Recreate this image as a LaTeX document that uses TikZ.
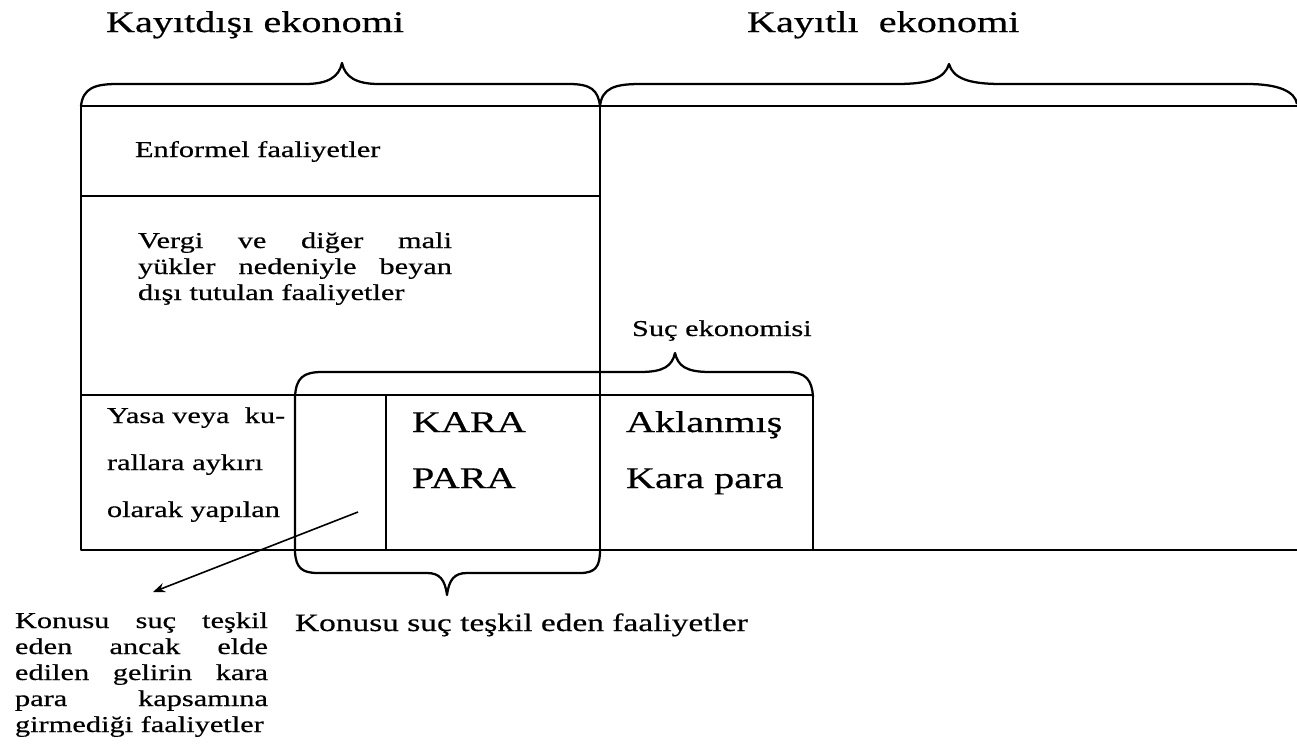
\documentclass[tikz,border=0pt]{standalone}
\usepackage{fontspec}
\setmainfont{Liberation Serif}[FakeStretch=1.34,FakeBold=0.5]
\usetikzlibrary{arrows.meta}
\newcommand\bodyfont{\fontsize{17}{19.5}\selectfont}
\newcommand\midfont{\fontsize{18.7}{21}\selectfont}
\newcommand\bigfont{\fontsize{22.5}{26}\selectfont}
\begin{document}
\begin{tikzpicture}[x=0.75pt,y=-0.75pt, line join=round,
  frameline/.style={line width=1pt},
  bracepath/.style={line width=1.7pt},
  txt/.style={anchor=base west, inner sep=0pt, outer sep=0pt, font=\bodyfont},
  midtxt/.style={anchor=base west, inner sep=0pt, outer sep=0pt, font=\midfont},
  bigtxt/.style={anchor=base west, inner sep=0pt, outer sep=0pt, font=\bigfont}]
\useasboundingbox (0,0) rectangle (1297,744);

% titles
\node[bigtxt] (t1) at (106,32) {Kayıtdışı ekonomi};
\node[bigtxt] (t2) at (747,32) {Kayıtlı\ \ ekonomi};

% top braces
\draw[bracepath] (81,106) .. controls (83,88) and (95,84) .. (117,84) -- (305,84)
  .. controls (328,84) and (339,77) .. (342,63)
  .. controls (345,77) and (356,84) .. (379,84) -- (569,84)
  .. controls (591,84) and (598,90) .. (600,106);
\draw[bracepath] (600,106) .. controls (602,88) and (615,84) .. (640,84) -- (897,84)
  .. controls (930,84) and (945,78) .. (949,64)
  .. controls (953,78) and (968,84) .. (1001,84) -- (1247,84)
  .. controls (1280,84) and (1295,92) .. (1297,104);

% frame
\draw[frameline] (1297,106) -- (81,106) -- (81,550) -- (1297,550);
\draw[frameline] (81,196) -- (600,196);
\draw[frameline] (81,395) -- (813,395) -- (813,550);
\draw[frameline] (386,395) -- (386,550);
\draw[frameline] (600,106) -- (600,550);

% crime brace + bottom brace
\draw[bracepath] (813,397) .. controls (812,380) and (806,372) .. (787,372) -- (710,372)
  .. controls (686,372) and (678,366) .. (675,353)
  .. controls (672,366) and (664,372) .. (640,372) -- (322,372)
  .. controls (303,372) and (296,378) .. (295,397) -- (295,552)
  .. controls (296,568) and (302,573) .. (318,573) -- (427,573)
  .. controls (440,573) and (445,580) .. (447,595)
  .. controls (449,580) and (454,573) .. (467,573) -- (580,573)
  .. controls (596,573) and (600,566) .. (600,550);

% texts
\node[txt] (enf) at (135,157) {Enformel faaliyetler};
\node[txt] (v1) at (138,248) {\hbox to 235.5pt{Vergi\hfill ve\hfill diğer\hfill mali}};
\node[txt] (v2) at (138,274) {\hbox to 235.5pt{yükler\hfill nedeniyle\hfill beyan}};
\node[txt] (v3) at (138,300) {dışı tutulan faaliyetler};

\node[txt] (suc) at (632,336) {Suç ekonomisi};

\node[txt] (y1) at (107,423) {Yasa veya\ \ ku-};
\node[txt] (y2) at (107,470) {rallara aykırı};
\node[txt] (y3) at (107,517) {olarak yapılan};

\node[bigtxt] (k1) at (412,432) {KARA};
\node[bigtxt] (k2) at (412,488) {PARA};
\node[bigtxt] (a1) at (626,432) {Aklanmış};
\node[bigtxt] (a2) at (626,488) {Kara para};

\node[midtxt] (kon) at (295,631) {Konusu suç teşkil eden faaliyetler};

\node[txt] (p1) at (15,628) {\hbox to 189.75pt{Konusu\hfill suç\hfill teşkil}};
\node[txt] (p2) at (15,654) {\hbox to 189.75pt{eden\hfill ancak\hfill elde}};
\node[txt] (p3) at (15,680) {\hbox to 189.75pt{edilen\hfill gelirin\hfill kara}};
\node[txt] (p4) at (15,706) {\hbox to 189.75pt{para\hfill kapsamına}};
\node[txt] (p5) at (15,732) {girmediği faaliyetler};

% arrow
\coordinate (arrowstart) at (358,512);
\coordinate (arrowend) at (153,592);
\draw[line width=1.2pt,-{Stealth[length=9pt,width=7pt]}] (arrowstart) -- (arrowend);
\end{tikzpicture}
\end{document}
